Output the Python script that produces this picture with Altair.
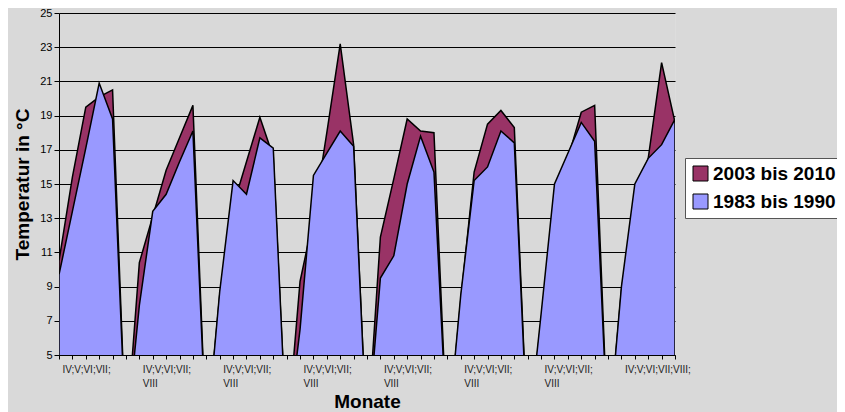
import json
import altair as alt
import pandas as pd

# 47 category slots: 8 groups of months IV..VIII, separated by one empty slot
months = (["IV", "V", "VI", "VII", "VIII", ""] * 7) + ["IV", "V", "VI", "VII", "VIII"]

series_names = ["2003 bis 2010", "1983 bis 1990"]
series_colors = ["#993366", "#9999FF"]

t_2003_2010 = [10.5, 15.4, 19.5, 20.1, 20.5, 0,
               10.4, 13.1, 15.8, 17.7, 19.6, 0,
               8.5, 13.7, 16.3, 18.9, 16.6, 0,
               9.3, 13.0, 18.0, 23.2, 17.3, 0,
               11.9, 15.3, 18.8, 18.1, 18.0, 0,
               8.2, 15.7, 18.5, 19.3, 18.3, 0,
               7.0, 14.5, 16.5, 19.2, 19.6, 0,
               8.8, 14.0, 16.5, 22.1, 18.6]

t_1983_1990 = [9.7, 13.4, 17.1, 20.9, 18.8, 0,
               7.9, 13.4, 14.4, 16.3, 18.1, 0,
               8.7, 15.2, 14.4, 17.7, 17.1, 0,
               6.5, 15.5, 16.8, 18.1, 17.2, 0,
               9.5, 10.8, 15.0, 17.8, 15.7, 0,
               8.5, 15.2, 16.0, 18.1, 17.4, 0,
               7.4, 15.0, 16.8, 18.6, 17.5, 0,
               9.0, 15.0, 16.5, 17.3, 18.8]

group_labels = [["IV;V;VI;VII;"]] + [["IV;V;VI;VII;", "VIII"]] * 6 + [["IV;V;VI;VII;VIII;"]]
y_ticks = list(range(5, 26, 2))

rows = []
for name, vals in zip(series_names, [t_2003_2010, t_1983_1990]):
    for i, (m, v) in enumerate(zip(months, vals)):
        rows.append({"idx": i, "month": m, "series": name, "temp": v})
df = pd.DataFrame(rows)

n = len(months)
label_expr = f"datum.value % 6 == 0 ? {json.dumps(group_labels)}[datum.value / 6] : ''"

x_enc = alt.X("idx:Q",
              scale=alt.Scale(domain=[0, n - 1], nice=False, zero=False),
              axis=alt.Axis(values=list(range(n)), labelExpr=label_expr,
                            labelAlign="left", labelBaseline="top", labelPadding=5,
                            labelOffset=3, labelFontSize=10, labelColor="#222",
                            labelLineHeight=14, labelOverlap=False, labelBound=False,
                            labelFlush=False, tickSize=4, tickColor="black",
                            domainColor="black", grid=False,
                            title="Monate", titleFontSize=19, titleFontWeight="bold",
                            titleColor="black", titleX=308, titleY=52,
                            titleBaseline="alphabetic", titleAlign="center"))
y_enc = alt.Y("temp:Q",
              scale=alt.Scale(domain=[5, 25], nice=False, zero=False),
              axis=alt.Axis(values=y_ticks, grid=True, gridColor="black", gridWidth=1,
                            tickSize=5, tickColor="black", domainColor="black",
                            labelPadding=2, labelFontSize=11, labelColor="black",
                            title="Temperatur in °C", titleFontSize=19,
                            titleFontWeight="bold", titleColor="black",
                            titleX=-31, titleY=171, titleAngle=270,
                            titleAlign="center", titleBaseline="alphabetic"))
color_enc = alt.Color("series:N",
                      scale=alt.Scale(domain=series_names, range=series_colors),
                      legend=alt.Legend(orient="none", legendX=626, legendY=145,
                                        title=None, fillColor="white",
                                        strokeColor="#555", padding=6,
                                        symbolType="square", symbolSize=225,
                                        symbolStrokeColor="black", symbolStrokeWidth=1,
                                        labelFontSize=19, labelFontWeight="bold",
                                        labelColor="black", labelOffset=3,
                                        rowPadding=8))

layers = []
for name in series_names:
    layers.append(
        alt.Chart(df).transform_filter(alt.datum.series == name)
        .mark_area(stroke="black", strokeWidth=1.5, clip=True, interpolate="linear",
                   orient="vertical", opacity=1)
        .encode(x=x_enc, y=y_enc, y2=alt.datum(0), color=color_enc)
    )

chart = alt.layer(*layers).properties(
    width=616, height=342,
    autosize=alt.AutoSizeParams(type="none"),
    padding={"left": 51, "top": 5, "right": 162, "bottom": 57},
    background="#d9d9d9",
).configure_view(stroke=None, fill="#e6e6e6").configure(font="Liberation Sans")

chart.save("out.html", embed_options={"renderer": "svg", "actions": False})
